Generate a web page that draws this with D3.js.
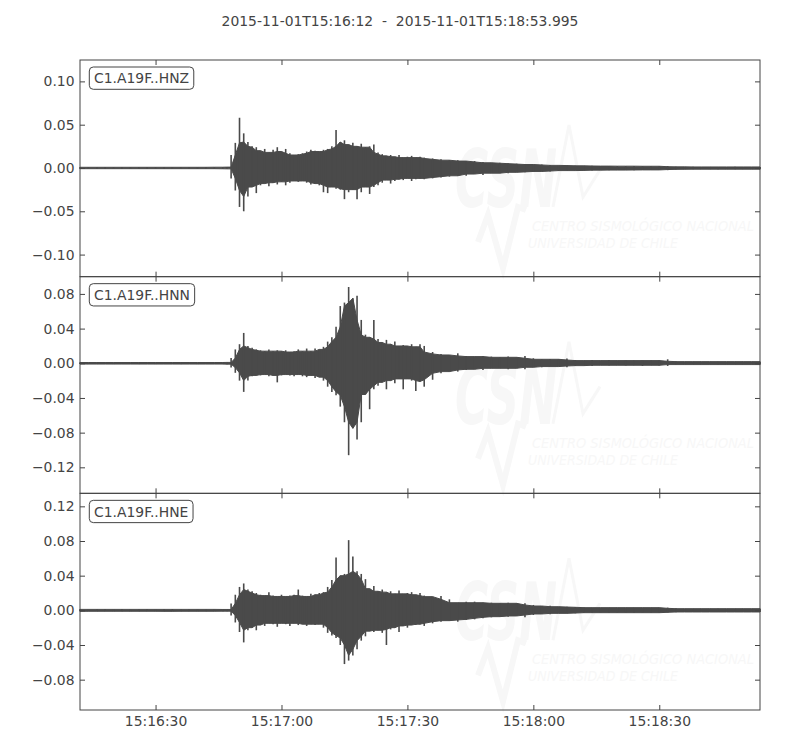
<!DOCTYPE html>
<html>
<head>
<meta charset="utf-8">
<script src="https://cdn.jsdelivr.net/npm/d3@7"></script>
<style>
  body { margin: 0; background: #fff; }
  svg { font-family: "DejaVu Sans", sans-serif; }
</style>
</head>
<body>
<svg id="chart" width="800" height="750"></svg>
<script>
// --- data ---
const title = "2015-11-01T15:16:12  -  2015-11-01T15:18:53.995";
const startTime = new Date(Date.UTC(2015, 10, 1, 15, 16, 12));
const endTime = new Date(Date.UTC(2015, 10, 1, 15, 18, 53, 995));
const channels = ["C1.A19F..HNZ", "C1.A19F..HNN", "C1.A19F..HNE"];

// seconds after start time for each envelope sample
const seconds = [
  0, 2, 4, 6, 8, 10, 12, 14, 16, 18, 20, 22, 24, 26, 28, 30, 32, 34,
  35, 36, 37, 38, 39, 40, 41, 42, 43, 44, 45, 46, 47, 48, 49, 50, 51, 52, 53, 54,
  55, 56, 57, 58, 59, 60, 61, 62, 63, 64, 65, 66, 67, 68, 69, 70, 71, 72, 73, 74,
  75, 76, 77, 78, 79, 80, 81, 82,
  84, 86, 88, 90, 92, 94, 96, 98, 100, 102, 104, 106, 108, 110, 112, 114, 116, 118,
  120, 122, 124, 126, 128, 130, 132, 134, 136, 138, 140, 142, 144, 146, 148, 150,
  152, 154, 156, 158, 160, 161.995
];

// envelope (max / min) of each trace
const hnzMax = [
  0.0008, 0.0009, 0.0008, 0.0008, 0.0009, 0.0008, 0.0008, 0.0009, 0.0008, 0.0009, 0.0008, 0.0008, 0.0009, 0.0009, 0.0008, 0.0009, 0.0009, 0.0010,
  0.001, 0.015, 0.029, 0.058, 0.040, 0.030, 0.025, 0.024, 0.020, 0.022, 0.018, 0.021, 0.024, 0.019, 0.022, 0.017, 0.015, 0.016, 0.017, 0.019,
  0.021, 0.020, 0.019, 0.021, 0.022, 0.025, 0.044, 0.030, 0.032, 0.027, 0.029, 0.025, 0.028, 0.024, 0.025, 0.027, 0.018, 0.016, 0.014, 0.015,
  0.013, 0.015, 0.012, 0.013, 0.014, 0.012, 0.013, 0.012,
  0.011, 0.010, 0.009, 0.009, 0.008, 0.008, 0.007, 0.006, 0.006, 0.0055, 0.005, 0.0045, 0.004, 0.004, 0.0035, 0.003, 0.003, 0.0028,
  0.0025, 0.0025, 0.0023, 0.0022, 0.0022, 0.0021, 0.0022, 0.0021, 0.002, 0.0021, 0.0022, 0.0015, 0.0013, 0.0013, 0.0012, 0.0013,
  0.0012, 0.0012, 0.0013, 0.0012, 0.0012, 0.0012
];
const hnzMin = [
  -0.0008, -0.0008, -0.0009, -0.0008, -0.0008, -0.0009, -0.0008, -0.0008, -0.0009, -0.0008, -0.0009, -0.0008, -0.0008, -0.0009, -0.0009, -0.0008, -0.0009, -0.0010,
  -0.001, -0.012, -0.026, -0.045, -0.050, -0.033, -0.022, -0.029, -0.020, -0.018, -0.021, -0.017, -0.019, -0.016, -0.020, -0.017, -0.015, -0.016, -0.015, -0.017,
  -0.019, -0.018, -0.020, -0.028, -0.029, -0.022, -0.024, -0.025, -0.036, -0.028, -0.025, -0.036, -0.028, -0.022, -0.030, -0.022, -0.020, -0.017, -0.014, -0.018,
  -0.015, -0.013, -0.014, -0.012, -0.015, -0.013, -0.012, -0.013,
  -0.012, -0.011, -0.010, -0.009, -0.009, -0.007, -0.008, -0.006, -0.006, -0.006, -0.005, -0.005, -0.0045, -0.004, -0.004, -0.0035, -0.003, -0.003,
  -0.003, -0.0028, -0.0025, -0.0025, -0.0024, -0.0024, -0.0025, -0.0023, -0.0022, -0.0023, -0.0025, -0.0018, -0.0016, -0.0015, -0.0014, -0.0015,
  -0.0014, -0.0014, -0.0015, -0.0014, -0.0014, -0.0014
];
const hnnMax = [
  0.0009, 0.0009, 0.0010, 0.0009, 0.0009, 0.0010, 0.0009, 0.0010, 0.0009, 0.0009, 0.0010, 0.0009, 0.0012, 0.0009, 0.0009, 0.0010, 0.0009, 0.0010,
  0.001, 0.006, 0.016, 0.022, 0.035, 0.020, 0.018, 0.016, 0.015, 0.014, 0.016, 0.014, 0.015, 0.014, 0.015, 0.013, 0.014, 0.016, 0.014, 0.017,
  0.014, 0.017, 0.016, 0.019, 0.025, 0.030, 0.042, 0.066, 0.070, 0.088, 0.075, 0.078, 0.050, 0.033, 0.030, 0.050, 0.028, 0.024, 0.027, 0.022,
  0.025, 0.020, 0.021, 0.020, 0.022, 0.019, 0.022, 0.020,
  0.013, 0.0108, 0.0096, 0.0115, 0.0085, 0.0077, 0.0085, 0.0077, 0.0069, 0.0077, 0.0069, 0.0085, 0.0058, 0.0046, 0.005, 0.0046, 0.0054, 0.0038,
  0.0031, 0.0038, 0.0031, 0.0038, 0.0031, 0.0035, 0.0031, 0.0035, 0.0031, 0.0035, 0.0046, 0.0023, 0.0019, 0.0019, 0.0019, 0.0019,
  0.0019, 0.0019, 0.0019, 0.0019, 0.0019, 0.0019
];
const hnnMin = [
  -0.0009, -0.0010, -0.0009, -0.0009, -0.0010, -0.0009, -0.0009, -0.0010, -0.0009, -0.0010, -0.0009, -0.0009, -0.0010, -0.0009, -0.0010, -0.0009, -0.0009, -0.0010,
  -0.001, -0.005, -0.011, -0.020, -0.033, -0.020, -0.015, -0.014, -0.014, -0.013, -0.015, -0.014, -0.022, -0.014, -0.013, -0.014, -0.015, -0.013, -0.015, -0.016,
  -0.014, -0.017, -0.016, -0.020, -0.027, -0.033, -0.037, -0.050, -0.068, -0.106, -0.075, -0.088, -0.068, -0.036, -0.053, -0.030, -0.026, -0.022, -0.030, -0.020,
  -0.023, -0.018, -0.030, -0.018, -0.020, -0.032, -0.021, -0.027,
  -0.019, -0.0115, -0.0096, -0.0096, -0.0077, -0.0069, -0.0077, -0.0058, -0.0058, -0.0069, -0.0058, -0.0069, -0.0046, -0.0046, -0.0038, -0.0038, -0.0046, -0.0031,
  -0.0027, -0.0031, -0.0023, -0.0027, -0.0023, -0.0027, -0.0023, -0.0031, -0.0023, -0.0027, -0.0031, -0.0015, -0.0015, -0.0015, -0.0015, -0.0015,
  -0.0015, -0.0015, -0.0015, -0.0015, -0.0015, -0.0015
];
const hneMax = [
  0.0012, 0.0011, 0.0012, 0.0012, 0.0011, 0.0012, 0.0011, 0.0012, 0.0012, 0.0011, 0.0012, 0.0015, 0.0011, 0.0012, 0.0012, 0.0011, 0.0012, 0.0012,
  0.001, 0.008, 0.018, 0.027, 0.031, 0.024, 0.022, 0.020, 0.018, 0.017, 0.021, 0.017, 0.016, 0.018, 0.016, 0.017, 0.018, 0.024, 0.017, 0.016,
  0.019, 0.018, 0.020, 0.021, 0.027, 0.035, 0.061, 0.040, 0.042, 0.081, 0.062, 0.045, 0.042, 0.036, 0.025, 0.028, 0.022, 0.024, 0.021, 0.022,
  0.019, 0.023, 0.019, 0.020, 0.021, 0.018, 0.020, 0.017,
  0.0158, 0.0165, 0.0127, 0.0088, 0.010, 0.010, 0.0088, 0.0088, 0.0081, 0.0088, 0.0081, 0.0081, 0.0062, 0.005, 0.0054, 0.0042, 0.0042, 0.0038,
  0.0035, 0.0031, 0.0031, 0.0031, 0.0031, 0.0031, 0.0031, 0.0031, 0.0031, 0.0031, 0.0031, 0.0023, 0.0019, 0.0019, 0.0019, 0.0019,
  0.0019, 0.0019, 0.0019, 0.0019, 0.0019, 0.0019
];
const hneMin = [
  -0.0012, -0.0012, -0.0011, -0.0012, -0.0012, -0.0011, -0.0012, -0.0012, -0.0011, -0.0012, -0.0012, -0.0013, -0.0012, -0.0011, -0.0012, -0.0012, -0.0011, -0.0012,
  -0.001, -0.006, -0.014, -0.025, -0.037, -0.023, -0.020, -0.023, -0.017, -0.018, -0.015, -0.016, -0.019, -0.015, -0.016, -0.018, -0.015, -0.017, -0.016, -0.018,
  -0.016, -0.017, -0.016, -0.020, -0.026, -0.029, -0.032, -0.040, -0.062, -0.058, -0.052, -0.045, -0.035, -0.030, -0.024, -0.025, -0.023, -0.026, -0.040, -0.022,
  -0.020, -0.025, -0.018, -0.020, -0.017, -0.017, -0.016, -0.018,
  -0.015, -0.0131, -0.0119, -0.0131, -0.0111, -0.0104, -0.0092, -0.0081, -0.0073, -0.0073, -0.0065, -0.0081, -0.0054, -0.0042, -0.0046, -0.0035, -0.0035, -0.0035,
  -0.0031, -0.0027, -0.0027, -0.0027, -0.0027, -0.0027, -0.0027, -0.0027, -0.0027, -0.0027, -0.0027, -0.0023, -0.0019, -0.0019, -0.0019, -0.0019,
  -0.0019, -0.0019, -0.0019, -0.0019, -0.0019, -0.0019
];

const yLimits = [[-0.1255, 0.1247], [-0.1500, 0.0999], [-0.1150, 0.1350]];
const yTicks = [
  [-0.10, -0.05, 0.00, 0.05, 0.10],
  [-0.12, -0.08, -0.04, 0.00, 0.04, 0.08],
  [-0.08, -0.04, 0.00, 0.04, 0.08, 0.12]
];
const traces = [[hnzMax, hnzMin], [hnnMax, hnnMin], [hneMax, hneMin]];

traces.forEach(t => {
  if (t[0].length !== seconds.length || t[1].length !== seconds.length)
    throw new Error("length mismatch " + t[0].length + " " + t[1].length + " vs " + seconds.length);
});

// --- layout ---
const plotLeft = 80, plotRight = 760, plotTop = 60, plotBottom = 710;
const panelH = (plotBottom - plotTop) / 3;
const ink = "#444";
const traceColor = "#4a4a4a";
const mark = "#f7f7f7";
const fontSize = "13.9px";

const svg = d3.select("#chart");

const x = d3.scaleUtc().domain([startTime, endTime]).range([plotLeft, plotRight]);
const tx = s => x(new Date(+startTime + s * 1000));
const xTicks = d3.utcSecond.every(30).range(new Date(+startTime + 1), endTime);

svg.append("text")
  .attr("x", 400).attr("y", 26)
  .attr("text-anchor", "middle")
  .style("white-space", "pre")
  .style("font-size", fontSize)
  .attr("fill", ink)
  .text(title);

traces.forEach((tr, i) => {
  const y0 = plotTop + i * panelH;
  const y = d3.scaleLinear().domain(yLimits[i]).range([y0 + panelH, y0]);
  const g = svg.append("g");
  const [hi, lo] = tr;

  // faint CSN watermark
  const wm = g.append("g").attr("transform", `translate(0,${y0})`);
  wm.append("polyline")
    .attr("points", "478,182 488,155 503,208 518,147 526,150")
    .attr("fill", "none").attr("stroke", mark).attr("stroke-width", 6);
  wm.append("polyline")
    .attr("points", "553,147 569,65 583,137 600,110")
    .attr("fill", "none").attr("stroke", mark).attr("stroke-width", 3);
  wm.append("text")
    .attr("x", 455).attr("y", 147)
    .attr("textLength", 102).attr("lengthAdjust", "spacingAndGlyphs")
    .style("font-size", "80px").style("font-weight", "bold").style("font-style", "italic")
    .attr("fill", mark).text("CSN");
  wm.append("text")
    .attr("x", 532).attr("y", 171)
    .attr("textLength", 222).attr("lengthAdjust", "spacingAndGlyphs")
    .style("font-family", "'Liberation Sans Narrow', 'DejaVu Sans Condensed', sans-serif")
    .style("font-size", "14.5px").style("font-style", "italic")
    .attr("fill", mark).text("CENTRO SISMOLÓGICO NACIONAL");
  wm.append("text")
    .attr("x", 528).attr("y", 188)
    .attr("textLength", 150).attr("lengthAdjust", "spacingAndGlyphs")
    .style("font-family", "'Liberation Sans Narrow', 'DejaVu Sans Condensed', sans-serif")
    .style("font-size", "14.5px").style("font-style", "italic")
    .attr("fill", mark).text("UNIVERSIDAD DE CHILE");

  // trace: core band (smaller of each sample and its neighbours) plus one spike per sample
  const n = seconds.length;
  const coreHi = j => d3.min([hi[Math.max(j - 1, 0)], hi[j], hi[Math.min(j + 1, n - 1)]]);
  const coreLo = j => d3.max([lo[Math.max(j - 1, 0)], lo[j], lo[Math.min(j + 1, n - 1)]]);
  const area = d3.area()
    .x(s => tx(s))
    .y0((s, j) => y(coreLo(j)))
    .y1((s, j) => y(coreHi(j)));
  g.append("path")
    .datum(seconds)
    .attr("d", area)
    .attr("fill", traceColor)
    .attr("stroke", traceColor)
    .attr("stroke-width", 1);

  g.append("g").selectAll("line")
    .data(seconds)
    .join("line")
    .attr("x1", s => tx(s)).attr("x2", s => tx(s))
    .attr("y1", (s, j) => y(hi[j])).attr("y2", (s, j) => y(lo[j]))
    .attr("stroke", traceColor)
    .attr("stroke-width", 1.6);

  // axes, ticks pointing inward on all sides
  const yl = g.append("g").attr("transform", `translate(${plotLeft},0)`)
    .call(d3.axisLeft(y).tickValues(yTicks[i]).tickFormat(d3.format(".2f"))
      .tickSizeInner(-5).tickSizeOuter(0).tickPadding(5.5));
  const yr = g.append("g").attr("transform", `translate(${plotRight},0)`)
    .call(d3.axisRight(y).tickValues(yTicks[i]).tickFormat("")
      .tickSizeInner(-5).tickSizeOuter(0));
  const xt = g.append("g").attr("transform", `translate(0,${y0})`)
    .call(d3.axisTop(x).tickValues(xTicks).tickFormat("")
      .tickSizeInner(-5).tickSizeOuter(0));
  const xb = g.append("g").attr("transform", `translate(0,${y0 + panelH})`)
    .call(d3.axisBottom(x).tickValues(xTicks)
      .tickFormat(i === 2 ? d3.utcFormat("%H:%M:%S") : "")
      .tickSizeInner(-5).tickSizeOuter(0).tickPadding(6.5));

  [yl, yr, xt, xb].forEach(a => {
    a.select(".domain").remove();
    a.selectAll("line").attr("stroke", ink);
    a.selectAll("text").attr("fill", ink).style("font-size", fontSize)
      .style("font-family", "DejaVu Sans, sans-serif");
  });

  g.append("rect")
    .attr("x", plotLeft).attr("y", y0)
    .attr("width", plotRight - plotLeft).attr("height", panelH)
    .attr("fill", "none").attr("stroke", ink).attr("stroke-width", 1);

  // channel label box
  const boxRect = g.append("rect");
  const lab = g.append("text")
    .attr("x", 94).attr("y", y0 + 23.3)
    .style("font-size", fontSize).attr("fill", ink)
    .text(channels[i]);
  const bb = lab.node().getBBox();
  boxRect
    .attr("x", bb.x - 4.7).attr("y", y0 + 7)
    .attr("width", bb.width + 9.4).attr("height", 22.3)
    .attr("rx", 4).attr("ry", 4)
    .attr("fill", "#fff").attr("stroke", ink).attr("stroke-width", 1);
});
</script>
</body>
</html>
